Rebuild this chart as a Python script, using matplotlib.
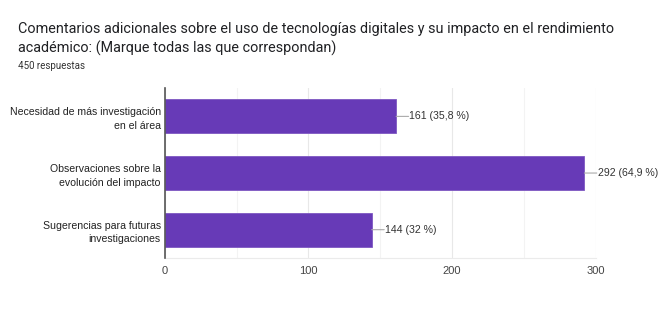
import matplotlib.pyplot as plt

plt.rcParams['font.family'] = ['Roboto', 'DejaVu Sans']

categories = ['Necesidad de más investigación\nen el área',
              'Observaciones sobre la\nevolución del impacto',
              'Sugerencias para futuras\ninvestigaciones']
counts = [161, 292, 144]
labels = ['161 (35,8 %)', '292 (64,9 %)', '144 (32 %)']
xticks = [0, 100, 200, 300]

arial = ['Liberation Sans', 'DejaVu Sans']

fig = plt.figure(figsize=(6.62, 3.09), dpi=100)
ax = fig.add_axes([0.249, 0.165, 0.651, 0.55])

pos = list(range(len(categories)))
ax.barh(pos, counts, height=0.6, color='#673ab7', edgecolor='#7e57c2', linewidth=0.6, zorder=3)
ax.set_ylim(len(categories) - 0.5, -0.5)
ax.set_xlim(0, 300)
ax.set_yticks(pos)
ax.set_yticklabels(categories, fontsize=7.6, color='#222222', family=arial, linespacing=1.45)
ax.set_xticks(xticks)
ax.set_xticklabels([str(t) for t in xticks], fontsize=8, color='#444444', family=arial)
ax.set_xticks([50, 150, 250], minor=True)
ax.tick_params(axis='both', which='both', length=0)
ax.tick_params(axis='x', pad=6)
ax.tick_params(axis='y', pad=3)
ax.grid(axis='x', which='major', color='#e8e8e8', linewidth=0.8, zorder=0)
ax.grid(axis='x', which='minor', color='#f3f3f3', linewidth=0.8, zorder=0)

for s in ['top', 'right']:
    ax.spines[s].set_visible(False)
ax.spines['bottom'].set_color('#ebebeb')
ax.spines['left'].set_color('#555555')
ax.spines['left'].set_linewidth(1.2)
ax.spines['left'].set_zorder(4)

for p, c, lab in zip(pos, counts, labels):
    ax.annotate('', xy=(c, p), xytext=(9, 0), textcoords='offset points',
                arrowprops=dict(arrowstyle='-', color='#aaaaaa', lw=0.8,
                                shrinkA=0, shrinkB=0), annotation_clip=False)
    ax.annotate(lab, xy=(c, p), xytext=(9.5, 0), textcoords='offset points',
                va='center', ha='left', fontsize=7.6, color='#333333',
                family=arial, annotation_clip=False)

fig.text(0.027, 0.905, 'Comentarios adicionales sobre el uso de tecnologías digitales y su impacto en el rendimiento',
         fontsize=10.4, color='#202124', va='center')
fig.text(0.027, 0.845, 'académico: (Marque todas las que correspondan)',
         fontsize=10.4, color='#202124', va='center')
fig.text(0.027, 0.785, '450 respuestas', fontsize=7, color='#333333', va='center')

fig.savefig('out.png', dpi=100)
